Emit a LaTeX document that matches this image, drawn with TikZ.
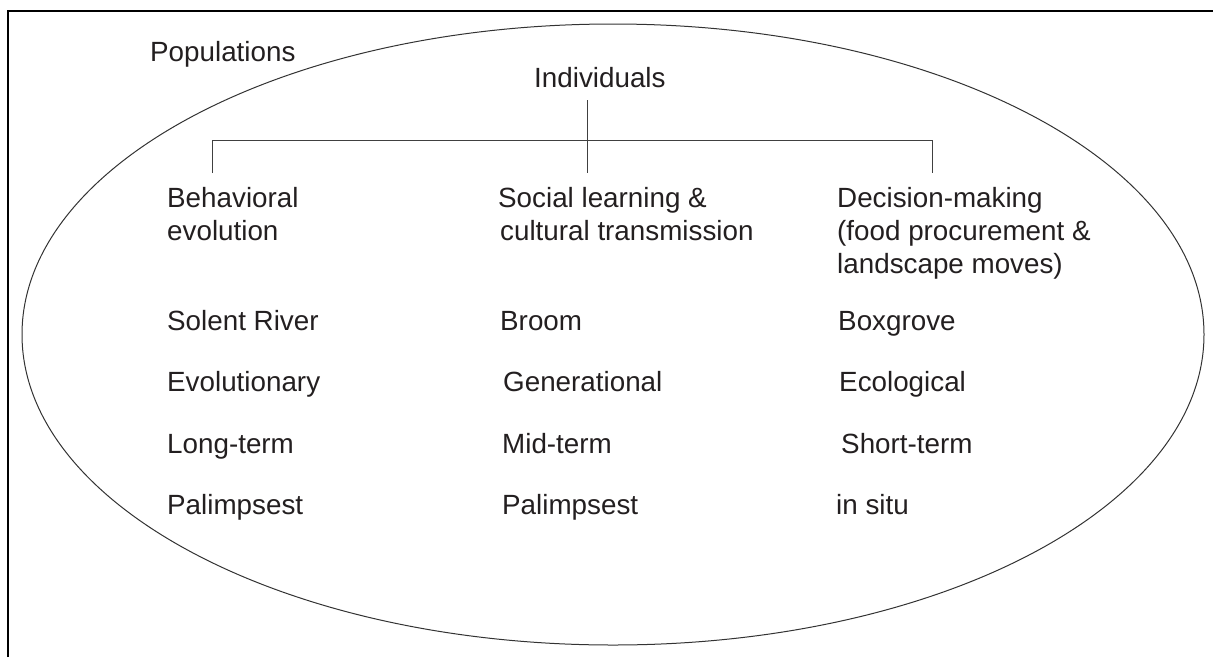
\documentclass[tikz,border=0pt]{standalone}
\usepackage{fontspec}
\setmainfont{Liberation Sans}
\definecolor{ink}{HTML}{231F20}
\begin{document}
\begin{tikzpicture}[x=1pt,y=-1pt,
  lbl/.style={anchor=base west,inner sep=0pt,text=ink,align=left,
    font=\fontsize{27.8}{33}\selectfont},
  tree/.style={line width=1pt,draw=black!75},
  frame/.style={line width=1.8pt,draw=black}]
\useasboundingbox (0,0) rectangle (1213,657);
% frame (left and top only)
\draw[frame] (8,657) -- (8,11) -- (1213,11);
% population ellipse
\draw[line width=1pt,draw=black!80] (613,334.5) ellipse [x radius=591, y radius=310.5];
% labels (base anchor = baseline of the last line)
\node[lbl] (pop) at (150,61) {Populations};
\node[lbl] (ind) at (534,87) {Individuals};
\node[lbl] (beh) at (167,240) {Behavioral\\evolution};
\node[lbl] (soc) at (498,240) {Social learning \&\\\hspace{2pt}cultural transmission};
\node[lbl] (dec) at (837,273) {Decision-making\\(food procurement \&\\landscape moves)};
% rows
\node[lbl] (a1) at (167,330) {Solent River};
\node[lbl] (a2) at (167,391) {Evolutionary};
\node[lbl] (a3) at (167,453) {Long-term};
\node[lbl] (a4) at (167,514) {Palimpsest};
\node[lbl] (b1) at (500,330) {Broom};
\node[lbl] (b2) at (503,391) {Generational};
\node[lbl] (b3) at (502,453) {Mid-term};
\node[lbl] (b4) at (502,514) {Palimpsest};
\node[lbl] (c1) at (838,330) {Boxgrove};
\node[lbl] (c2) at (839,391) {Ecological};
\node[lbl] (c3) at (841,453) {Short-term};
\node[lbl] (c4) at (836,514) {in situ};
% tree connectors
\coordinate (t0) at (587,100);
\coordinate (m1) at (587,173);
\coordinate (l0) at (212,140);
\coordinate (l1) at (212,173);
\coordinate (r0) at (932,140);
\coordinate (r1) at (932,173);
\draw[tree] (t0) -- (m1);
\draw[tree] (l1) -- (l0) -- (r0) -- (r1);
\end{tikzpicture}
\end{document}
